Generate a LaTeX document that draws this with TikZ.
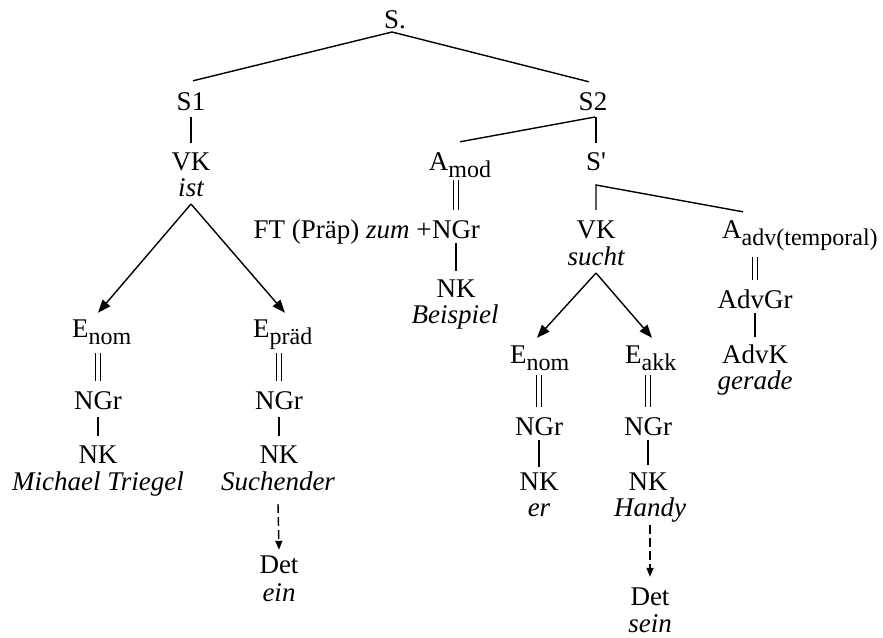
\documentclass[tikz,border=0pt]{standalone}
\usepackage{fontspec}
\setmainfont{Liberation Serif}
\usetikzlibrary{arrows.meta}
% lowered, slightly smaller index text (E_nom, A_mod, ...)
\newcommand\idx[1]{\raisebox{-7pt}{\fontsize{24}{24}\selectfont #1}}

\begin{document}
\begin{tikzpicture}[x=1pt,y=-1pt,
  lbl/.style={inner sep=0pt, text height=18pt, text depth=0pt, anchor=base,
              font=\fontsize{27}{27}\selectfont},
  word/.style={lbl, font=\fontsize{27}{27}\selectfont\itshape},
  edge/.style={line width=1.4pt},
  same/.style={line width=1.3pt, double, double distance=4.2pt},
  dep/.style={edge, -{Triangle[length=13pt,width=10pt]}},
  opt/.style={edge, dash pattern=on 9pt off 4pt, -{Triangle[length=9pt,width=7pt]}}
]
\fill[white] (0,0) rectangle (883,637);
\useasboundingbox (0,0) rectangle (883,637);

% ---- labels ----
\node[lbl] (root) at (395,28) {S.};
\node[lbl] (s1) at (191,110) {S1};
\node[lbl] (s2) at (593,110) {S2};
\node[lbl] (vk1) at (191,170) {VK};
\node[word] (ist) at (191,196) {ist};
\node[lbl] (amod) at (460,170) {A\idx{mod}};
\node[lbl] (sp) at (596,170) {S\textquotesingle};
\node[lbl] (ngrB) at (456,238) {NGr};
\node[lbl, anchor=base east] (ft) at (ngrB.base west) {FT (Präp) \textit{zum} +};
\node[lbl] (vk2) at (596,238) {VK};
\node[word] (sucht) at (596,265) {sucht};
\node[lbl, anchor=base west] (aadv) at (722,238) {A\idx{adv(temporal)}};
\node[lbl] (nkB) at (456,297) {NK};
\node[word] (beispiel) at (455,323) {Beispiel};
\node[lbl, anchor=base west] (enom1) at (72,337) {E\idx{nom}};
\node[lbl, anchor=base west] (epraed) at (253,337) {E\idx{präd}};
\node[lbl] (advgr) at (755,308) {AdvGr};
\node[lbl] (advk) at (755,363) {AdvK};
\node[word] (gerade) at (755,389) {gerade};
\node[lbl, anchor=base west] (enom2) at (510,363) {E\idx{nom}};
\node[lbl, anchor=base west] (eakk) at (625,363) {E\idx{akk}};
\node[lbl] (ngr1) at (98,409) {NGr};
\node[lbl] (ngr2) at (279,409) {NGr};
\node[lbl] (ngr3) at (539,435) {NGr};
\node[lbl] (ngr4) at (648,435) {NGr};
\node[lbl] (nk1) at (98,463) {NK};
\node[word] (michael) at (98,490) {Michael Triegel};
\node[lbl] (nk2) at (279,463) {NK};
\node[word] (suchender) at (278,490) {Suchender};
\node[lbl] (nk3) at (539,490) {NK};
\node[word] (er) at (539,516) {er};
\node[lbl] (nk4) at (648,490) {NK};
\node[word] (handy) at (650,516) {Handy};
\node[lbl] (det1) at (279,573) {Det};
\node[word] (ein) at (279,601) {ein};
\node[lbl] (det2) at (650,605) {Det};
\node[word] (sein) at (650,632) {sein};

% ---- tree lines ----
\draw[edge] ([shift={(-3pt,-4pt)}]root.base) -- ([shift={(2pt,11pt)}]s1.north);
\draw[edge] ([shift={(-3pt,-4pt)}]root.base) -- ([shift={(-4pt,10pt)}]s2.north);
\draw[edge] ([yshift=-7pt]s1.base) -- ([yshift=9pt]vk1.north);
\draw[edge] ([shift={(2pt,-7pt)}]s2.base) coordinate (s2b) -- ([yshift=10pt]amod.north);
\draw[edge] (sp.north |- s2b) -- ([yshift=9pt]sp.north);
\coordinate (spb) at ([yshift=-15pt]sp.base);
\draw[edge] ([yshift=10pt]vk2.north) -- (spb) -- ([shift={(21pt,8pt)}]aadv.north west);

% modifier branch
\draw[same] ([yshift=-10pt]ngrB.north |- amod.base) -- ([yshift=10pt]ngrB.north);
\draw[edge] ([yshift=-5pt]ngrB.base) -- ([yshift=8pt]nkB.north);

% valency of "ist"
\draw[dep] ([yshift=-8pt]ist.base) -- ([yshift=6pt]ngr1.north |- enom1.north);
\draw[dep] ([yshift=-8pt]ist.base) -- ([shift={(6pt,6pt)}]ngr2.north |- epraed.north);
\draw[same] ([yshift=-16pt]ngr1.north |- enom1.base) -- ([yshift=10pt]ngr1.north);
\draw[same] ([yshift=-16pt]ngr2.north |- epraed.base) -- ([yshift=10pt]ngr2.north);
\draw[edge] ([yshift=-8pt]ngr1.base) -- ([yshift=9pt]nk1.north);
\draw[edge] ([yshift=-8pt]ngr2.base) -- ([yshift=9pt]nk2.north);
\draw[opt] ([yshift=-14pt]suchender.base) -- ([yshift=5pt]det1.north);

% valency of "sucht"
\draw[dep] ([yshift=-8pt]sucht.base) -- ([shift={(-2pt,7pt)}]ngr3.north |- enom2.north);
\draw[dep] ([yshift=-8pt]sucht.base) -- ([shift={(4pt,7pt)}]ngr4.north |- eakk.north);
\draw[same] ([yshift=-12pt]ngr3.north |- enom2.base) -- ([yshift=10pt]ngr3.north);
\draw[same] ([yshift=-12pt]ngr4.north |- eakk.base) -- ([yshift=10pt]ngr4.north);
\draw[edge] ([yshift=-5pt]ngr3.base) -- ([yshift=5pt]nk3.north);
\draw[edge] ([yshift=-5pt]ngr4.base) -- ([yshift=7pt]nk4.north);
\draw[opt] ([yshift=-9pt]handy.base) -- ([yshift=10pt]det2.north);

% adverbial branch
\draw[same] ([yshift=-19pt]advgr.north |- aadv.base) -- ([yshift=10pt]advgr.north);
\draw[edge] ([yshift=-5pt]advgr.base) -- ([yshift=8pt]advk.north);
\end{tikzpicture}
\end{document}
